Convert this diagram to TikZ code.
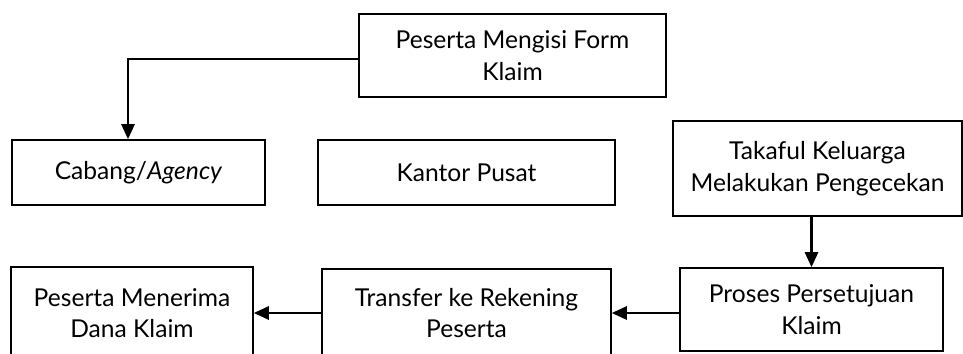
\documentclass[tikz,border=0pt]{standalone}
\usepackage{fontspec}
\setmainfont{Lato}
\usepackage{tikz}
\usetikzlibrary{arrows.meta,positioning,calc}

\begin{document}
\begin{tikzpicture}[
      x=0.02cm, y=-0.02cm,
      box/.style={draw, line width=0.9pt, align=center, inner sep=0pt,
        font=\fontsize{14}{18}\selectfont},
      arr/.style={line width=1.5pt, -{Triangle[length=0.3cm, width=0.26cm]}},
      thinline/.style={line width=0.9pt}
  ]
    \useasboundingbox (0,0) rectangle (963,354);
    \clip (0,0) rectangle (963,354);
    \node[box, minimum width=6.14cm, minimum height=1.66cm] (mengisi) at (512.5,55.5) {Peserta Mengisi Form\\Klaim};
    \node[box, minimum width=5.06cm, minimum height=1.30cm] (cabang) at (138.5,172.5) {Cabang/\textit{Agency}};
    \node[box, minimum width=5.94cm, minimum height=1.30cm] (kantor) at (466.5,172.5) {Kantor Pusat};
    \node[box, minimum width=5.78cm, minimum height=1.90cm] (takaful) at (817.5,168.5) {Takaful Keluarga\\Melakukan Pengecekan};
    \node[box, minimum width=5.26cm, minimum height=1.66cm] (proses) at (811.5,309.5) {Proses Persetujuan\\Klaim};
    \node[box, minimum width=5.78cm, minimum height=1.76cm] (transfer) at (466.5,313) {Transfer ke Rekening\\Peserta};
    \node[box, minimum width=4.84cm, minimum height=1.84cm] (menerima) at (132,313) {Peserta Menerima\\Dana Klaim};
    \coordinate (belok) at ($(cabang.north)+(-10.5,0)$);
    \coordinate (belokatas) at (belok |- 0,59);
    \draw[thinline] (mengisi.west |- belokatas) -- (belokatas);
    \draw[arr] ([yshift=0.01cm]belokatas) -- (belok);
    \draw[arr] (takaful.south -| proses.north) -- (proses.north);
    \draw[arr] (proses.west |- transfer.east) -- (transfer.east);
    \draw[arr] (transfer.west) -- (menerima.east);
  \end{tikzpicture}
\end{document}
